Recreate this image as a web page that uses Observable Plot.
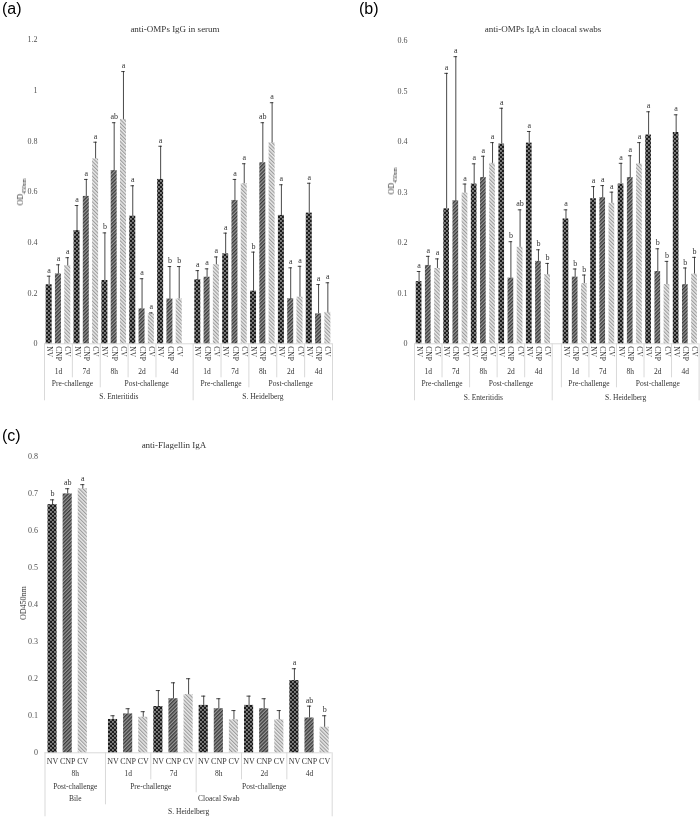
<!DOCTYPE html>
<html><head><meta charset="utf-8">
<script src="https://cdn.jsdelivr.net/npm/d3@7"></script>
<script src="https://cdn.jsdelivr.net/npm/@observablehq/plot@0.6"></script>
<style>
body{margin:0;background:#fff;}
#root{position:relative;width:700px;height:818px;overflow:hidden;font-family:"Liberation Serif","Times New Roman",serif;}
.abs{position:absolute;will-change:transform;background:transparent;}
.plab{font-family:"Liberation Sans",Arial,sans-serif;font-size:16px;color:#000;line-height:1;white-space:nowrap;}
.title{font-size:9px;color:#333;white-space:nowrap;transform:translate(-50%,-50%);line-height:1;}
.ylab{font-size:8px;color:#333;white-space:nowrap;transform:translate(-50%,-50%) rotate(-90deg);line-height:1;}
.ylab sub{font-size:5.5px;}
</style></head>
<body>
<svg width="0" height="0" style="position:absolute">
<defs>
<pattern id="pat-NV" width="4" height="4" patternUnits="userSpaceOnUse">
<rect width="4" height="4" fill="#1c1c1c"/><rect x="0.3" y="0.3" width="1.3" height="1.3" fill="#f4f4f4"/><rect x="2.3" y="2.3" width="1.3" height="1.3" fill="#f4f4f4"/>
</pattern>
<pattern id="pat-CNP" width="2.6" height="2.6" patternUnits="userSpaceOnUse" patternTransform="rotate(45)">
<rect width="2.6" height="2.6" fill="#979797"/><rect width="1.3" height="2.6" fill="#3a3a3a"/>
</pattern>
<pattern id="pat-CV" width="2.6" height="2.6" patternUnits="userSpaceOnUse" patternTransform="rotate(-45)">
<rect width="2.6" height="2.6" fill="#e8e8e8"/><rect width="1.1" height="2.6" fill="#9a9a9a"/>
</pattern>
</defs>
</svg>
<div id="root"></div>
<script>
// ---------- data ----------
const groups = ["NV", "CNP", "CV"];
const times = ["1d", "7d", "8h", "2d", "4d"];
const phases = ["Pre-challenge", "Pre-challenge", "Post-challenge", "Post-challenge", "Post-challenge"];

// (a) anti-OMPs IgG in serum
const aMeanSE = [0.233,0.276,0.309, 0.447,0.582,0.730, 0.250,0.684,0.886, 0.504,0.138,0.118, 0.649,0.177,0.177];
const aErrSE  = [0.267,0.312,0.340, 0.546,0.649,0.796, 0.438,0.873,1.075, 0.624,0.257,0.122, 0.780,0.305,0.305];
const aLetSE  = ["a","a","a","a","a","a","b","ab","a","a","a","a","a","b","b"];
const aMeanSH = [0.253,0.263,0.312, 0.355,0.566,0.632, 0.208,0.715,0.794, 0.507,0.178,0.184, 0.516,0.118,0.124];
const aErrSH  = [0.289,0.296,0.343, 0.437,0.649,0.711, 0.362,0.873,0.952, 0.628,0.300,0.306, 0.634,0.234,0.241];
const aLetSH  = ["a","a","a","a","a","a","b","ab","a","a","a","a","a","a","a"];

// (b) anti-OMPs IgA in cloacal swabs
const bMeanSE = [0.123,0.155,0.149, 0.267,0.283,0.298, 0.316,0.329,0.357, 0.395,0.130,0.191, 0.397,0.163,0.137];
const bErrSE  = [0.143,0.173,0.168, 0.535,0.568,0.316, 0.356,0.371,0.398, 0.466,0.202,0.265, 0.420,0.186,0.159];
const bLetSE  = ["a","a","a","a","a","a","a","a","a","a","b","ab","a","b","b"];
const bMeanSH = [0.247,0.132,0.119, 0.287,0.289,0.278, 0.316,0.329,0.356, 0.413,0.143,0.117, 0.418,0.117,0.138];
const bErrSH  = [0.265,0.148,0.136, 0.311,0.313,0.300, 0.357,0.372,0.398, 0.459,0.188,0.163, 0.453,0.150,0.171];
const bLetSH  = ["a","b","b","a","a","a","a","a","a","a","b","b","a","b","b"];

// (c) anti-Flagellin IgA (S. Heidelberg)
const cMeanBile = [0.670,0.699,0.713];
const cErrBile  = [0.683,0.713,0.724];
const cLetBile  = ["b","ab","a"];
const cMeanSwab = [0.090,0.105,0.096, 0.125,0.146,0.157, 0.128,0.119,0.089, 0.128,0.119,0.089, 0.195,0.094,0.069];
const cErrSwab  = [0.100,0.119,0.111, 0.168,0.189,0.200, 0.153,0.146,0.114, 0.153,0.146,0.114, 0.227,0.126,0.100];
const cLetSwab  = ["","","", "","","", "","","", "","","", "a","ab","b"];

// ---------- helpers ----------
function build(ts, ps, upper, means, errs, letters) {
  const out = [];
  ts.forEach((t, ti) => groups.forEach((g, gi) => {
    const k = ti * groups.length + gi;
    out.push({levels: [g, t, ps[ti], ...upper], v: means[k], e: errs[k], l: letters[k] || ""});
  }));
  return out;
}
const blank = (levels) => ({levels: ["", ...levels], v: null, e: null, l: ""});

function panel(cfg) {
  const cats = cfg.cats.map((c, i) => ({...c, i}));
  const N = cats.length;
  const top = cats[0].levels.length - 1;
  const bars = cats.filter(d => d.v != null);
  const line = "#d9d9d9", ink = "#333333";
  const marks = [];
  marks.push(Plot.ruleY([0], {stroke: line, strokeWidth: 1}));
  for (const g of groups) {
    marks.push(Plot.rect(bars.filter(d => d.levels[0] === g), {
      x1: "i", x2: d => d.i + 1, y1: () => 0, y2: "v",
      fill: `url(#pat-${g})`, insetLeft: cfg.barInset, insetRight: cfg.barInset
    }));
  }
  marks.push(Plot.ruleX(bars, {x: d => d.i + 0.5, y1: "v", y2: "e", stroke: "#1a1a1a", strokeWidth: 0.8}));
  marks.push(Plot.ruleY(bars, {y: "e", x1: "i", x2: d => d.i + 1, insetLeft: cfg.cap, insetRight: cfg.cap, stroke: "#1a1a1a", strokeWidth: 0.8}));
  marks.push(Plot.text(bars.filter(d => d.l), {x: d => d.i + 0.5, y: "e", text: "l", dy: -6, fontSize: 8, fill: ink}));
  // category table: lowest level
  marks.push(Plot.text(cats.filter(d => d.levels[0]), {
    x: d => d.i + 0.5, y: () => 0, text: d => d.levels[0],
    rotate: cfg.rotate ? 90 : 0, textAnchor: cfg.rotate ? "start" : "middle",
    dy: cfg.rowDy[0], fontSize: cfg.rotate ? 7.5 : 8, fill: ink
  }));
  // upper levels
  for (let L = 1; L <= top; L++) {
    const key = i => cats[i].levels.slice(L).join("|");
    const runs = [];
    let s = 0;
    for (let i = 1; i <= N; i++) {
      if (i === N || key(i) !== key(s)) {
        if (cats[s].levels[L]) runs.push({x: (s + i) / 2, text: cats[s].levels[L]});
        s = i;
      }
    }
    marks.push(Plot.text(runs, {x: "x", y: () => 0, text: "text", dy: cfg.rowDy[L], fontSize: 7.5, fill: ink}));
  }
  // separators
  const bounds = [];
  for (let b = 0; b <= N; b++) {
    let L = 0;
    if (b === 0 || b === N) L = top;
    else for (let k = top; k >= 1; k--) { if (cats[b - 1].levels[k] !== cats[b].levels[k]) { L = k; break; } }
    if (L) bounds.push({x: b, L});
  }
  for (let L = 1; L <= top; L++) {
    marks.push(Plot.ruleX(bounds.filter(d => d.L === L), {
      x: "x", y1: () => 0, y2: () => 0, insetTop: 0, insetBottom: -cfg.lineLen[L], stroke: line, strokeWidth: 1
    }));
  }
  const chart = Plot.plot({
    width: cfg.width, height: cfg.height,
    marginTop: cfg.mt, marginRight: cfg.mr, marginBottom: cfg.mb, marginLeft: cfg.ml,
    x: {domain: [0, N], axis: null},
    y: {domain: cfg.yDomain, ticks: cfg.yTicks, tickFormat: d => String(+d.toFixed(1)), tickSize: 0, tickPadding: 7, label: null},
    style: {fontFamily: "'Liberation Serif','Times New Roman',serif", fontSize: "8px", color: "#505050", background: "transparent", overflow: "visible"},
    marks
  });
  const holder = document.createElement("div");
  holder.className = "abs";
  holder.style.left = cfg.left + "px";
  holder.style.top = cfg.top + "px";
  holder.appendChild(chart);
  document.getElementById("root").appendChild(holder);
}

function addText(cls, html, x, y) {
  const d = document.createElement("div");
  d.className = "abs " + cls;
  d.style.left = x + "px";
  d.style.top = y + "px";
  d.innerHTML = html;
  document.getElementById("root").appendChild(d);
}

// ---------- panels ----------
const ticksA = d3.range(0, 7).map(k => k * 0.2);
const ticksB = d3.range(0, 7).map(k => k * 0.1);
const ticksC = d3.range(0, 9).map(k => k * 0.1);

panel({
  cats: [...build(times, phases, ["S. Enteritidis"], aMeanSE, aErrSE, aLetSE),
         blank(["4d", "Post-challenge", "S. Enteritidis"]),
         ...build(times, phases, ["S. Heidelberg"], aMeanSH, aErrSH, aLetSH)],
  left: 0, top: 0, width: 345, height: 405, mt: 39.4, mr: 13, mb: 61.7, ml: 44,
  yDomain: [0, 1.2], yTicks: ticksA, barInset: 1.65, cap: 2.9, rotate: true,
  rowDy: [2.5, 28, 40, 52.5], lineLen: [0, 34, 44, 57]
});
panel({
  cats: [...build(times, phases, ["S. Enteritidis"], bMeanSE, bErrSE, bLetSE),
         blank(["", "", "S. Heidelberg"]),
         ...build(times, phases, ["S. Heidelberg"], bMeanSH, bErrSH, bLetSH)],
  left: 350, top: 0, width: 350, height: 405, mt: 40, mr: 1.4, mb: 61.7, ml: 64,
  yDomain: [0, 0.6], yTicks: ticksB, barInset: 1.75, cap: 2.8, rotate: true,
  rowDy: [2.5, 27.5, 40, 53.5], lineLen: [0, 34, 44, 57]
});
panel({
  cats: [...build(["8h"], ["Post-challenge"], ["Bile", "S. Heidelberg"], cMeanBile, cErrBile, cLetBile),
         blank(["8h", "Post-challenge", "Bile", "S. Heidelberg"]),
         ...build(times, phases, ["Cloacal Swab", "S. Heidelberg"], cMeanSwab, cErrSwab, cLetSwab)],
  left: 0, top: 425, width: 345, height: 393, mt: 31, mr: 13.3, mb: 65.7, ml: 44.5,
  yDomain: [0, 0.8], yTicks: ticksC, barInset: 3, cap: 5.5, rotate: false,
  rowDy: [9, 21, 34, 46, 59], lineLen: [0, 27, 40, 52, 64]
});

// ---------- titles & labels ----------
addText("plab", "(a)", 2, 1);
addText("plab", "(b)", 359, 1);
addText("plab", "(c)", 2, 428);
addText("title", "anti-OMPs IgG in serum", 175, 28.5);
addText("title", "anti-OMPs IgA in cloacal swabs", 543, 28.5);
addText("title", "anti-Flagellin IgA", 174, 444.5);
addText("ylab", "OD<sub>450nm</sub>", 22, 192);
addText("ylab", "OD<sub>450nm</sub>", 393, 181);
addText("ylab", "OD450nm", 24, 603);
</script>
</body></html>
